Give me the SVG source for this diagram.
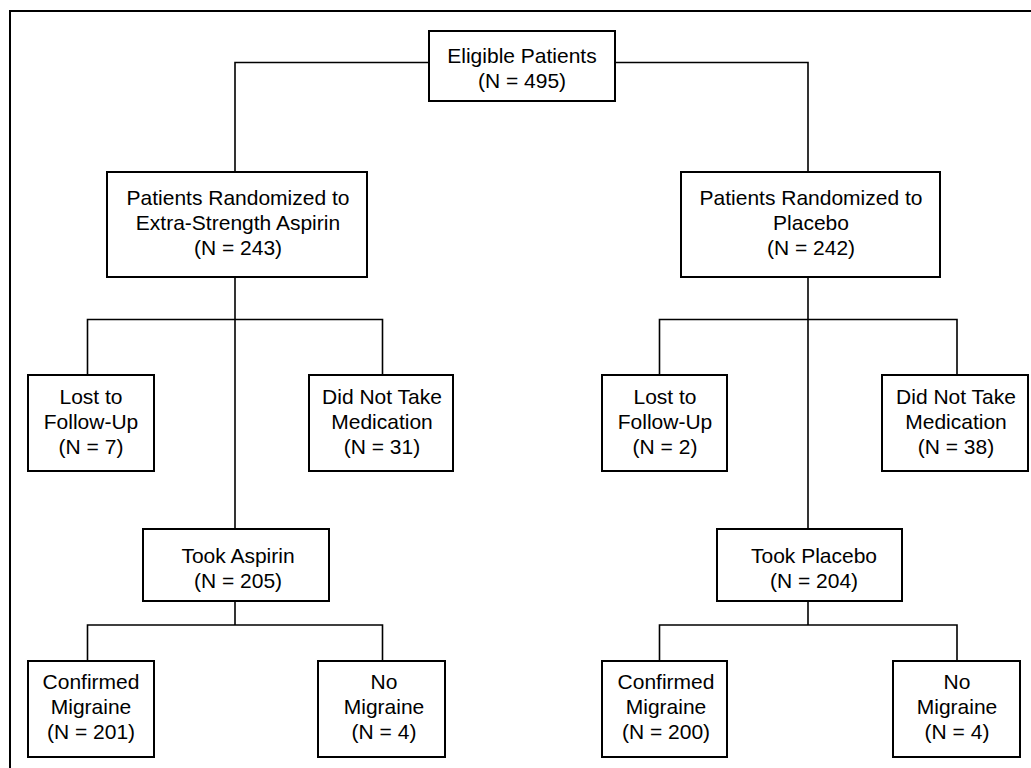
<svg xmlns="http://www.w3.org/2000/svg" width="1031" height="768" viewBox="0 0 1031 768">
<style>
.box{fill:#fff;stroke:#000;stroke-width:2}
.c{fill:none;stroke:#000;stroke-width:1.6}
.frame{fill:none;stroke:#000;stroke-width:2}
text{font-family:"Liberation Sans",Arial,sans-serif;font-size:21px;fill:#000;text-anchor:middle}
</style>
<rect width="1031" height="768" fill="#fff"/>
<path class="frame" d="M10,768 V11 H1031"/>
<g id="connectors">
<path class="c" d="M429,62.5 H235 V172"/>
<path class="c" d="M615,62.5 H808 V172"/>
<path class="c" d="M235,277 V529"/>
<path class="c" d="M87.5,375 V319.5 H382.5 V375"/>
<path class="c" d="M235,601 V625"/>
<path class="c" d="M87.5,661 V625 H382.5 V661"/>
<path class="c" d="M808,277 V529"/>
<path class="c" d="M659.5,375 V319.5 H957 V375"/>
<path class="c" d="M808,601 V625"/>
<path class="c" d="M659.5,661 V625 H957 V661"/>
</g>
<g id="eligible"><rect class="box" x="429" y="31" width="186" height="70"/><text x="522" y="63">Eligible Patients</text><text x="522" y="88">(N = 495)</text></g>
<g id="rand-aspirin"><rect class="box" x="107" y="172" width="260" height="105"/><text x="238" y="205">Patients Randomized to</text><text x="238" y="230">Extra-Strength Aspirin</text><text x="238" y="255">(N = 243)</text></g>
<g id="rand-placebo"><rect class="box" x="681" y="172" width="259" height="105"/><text x="811" y="205">Patients Randomized to</text><text x="811" y="230">Placebo</text><text x="811" y="255">(N = 242)</text></g>
<g id="lost-a"><rect class="box" x="28" y="375" width="126" height="96"/><text x="91" y="404">Lost to</text><text x="91" y="429">Follow-Up</text><text x="91" y="454">(N = 7)</text></g>
<g id="dnt-a"><rect class="box" x="309" y="375" width="144" height="96"/><text x="382" y="404">Did Not Take</text><text x="382" y="429">Medication</text><text x="382" y="454">(N = 31)</text></g>
<g id="took-aspirin"><rect class="box" x="143" y="529" width="186" height="72"/><text x="238" y="563">Took Aspirin</text><text x="238" y="588">(N = 205)</text></g>
<g id="conf-a"><rect class="box" x="28" y="661" width="126" height="96"/><text x="91" y="689">Confirmed</text><text x="91" y="714">Migraine</text><text x="91" y="739">(N = 201)</text></g>
<g id="nomig-a"><rect class="box" x="318" y="661" width="127" height="96"/><text x="384" y="689">No</text><text x="384" y="714">Migraine</text><text x="384" y="739">(N = 4)</text></g>
<g id="lost-p"><rect class="box" x="602" y="375" width="125" height="96"/><text x="665" y="404">Lost to</text><text x="665" y="429">Follow-Up</text><text x="665" y="454">(N = 2)</text></g>
<g id="dnt-p"><rect class="box" x="882" y="375" width="146" height="96"/><text x="956" y="404">Did Not Take</text><text x="956" y="429">Medication</text><text x="956" y="454">(N = 38)</text></g>
<g id="took-placebo"><rect class="box" x="717" y="529" width="185" height="72"/><text x="814" y="563">Took Placebo</text><text x="814" y="588">(N = 204)</text></g>
<g id="conf-p"><rect class="box" x="602" y="661" width="125" height="96"/><text x="666" y="689">Confirmed</text><text x="666" y="714">Migraine</text><text x="666" y="739">(N = 200)</text></g>
<g id="nomig-p"><rect class="box" x="893" y="661" width="127" height="96"/><text x="957" y="689">No</text><text x="957" y="714">Migraine</text><text x="957" y="739">(N = 4)</text></g>
</svg>
